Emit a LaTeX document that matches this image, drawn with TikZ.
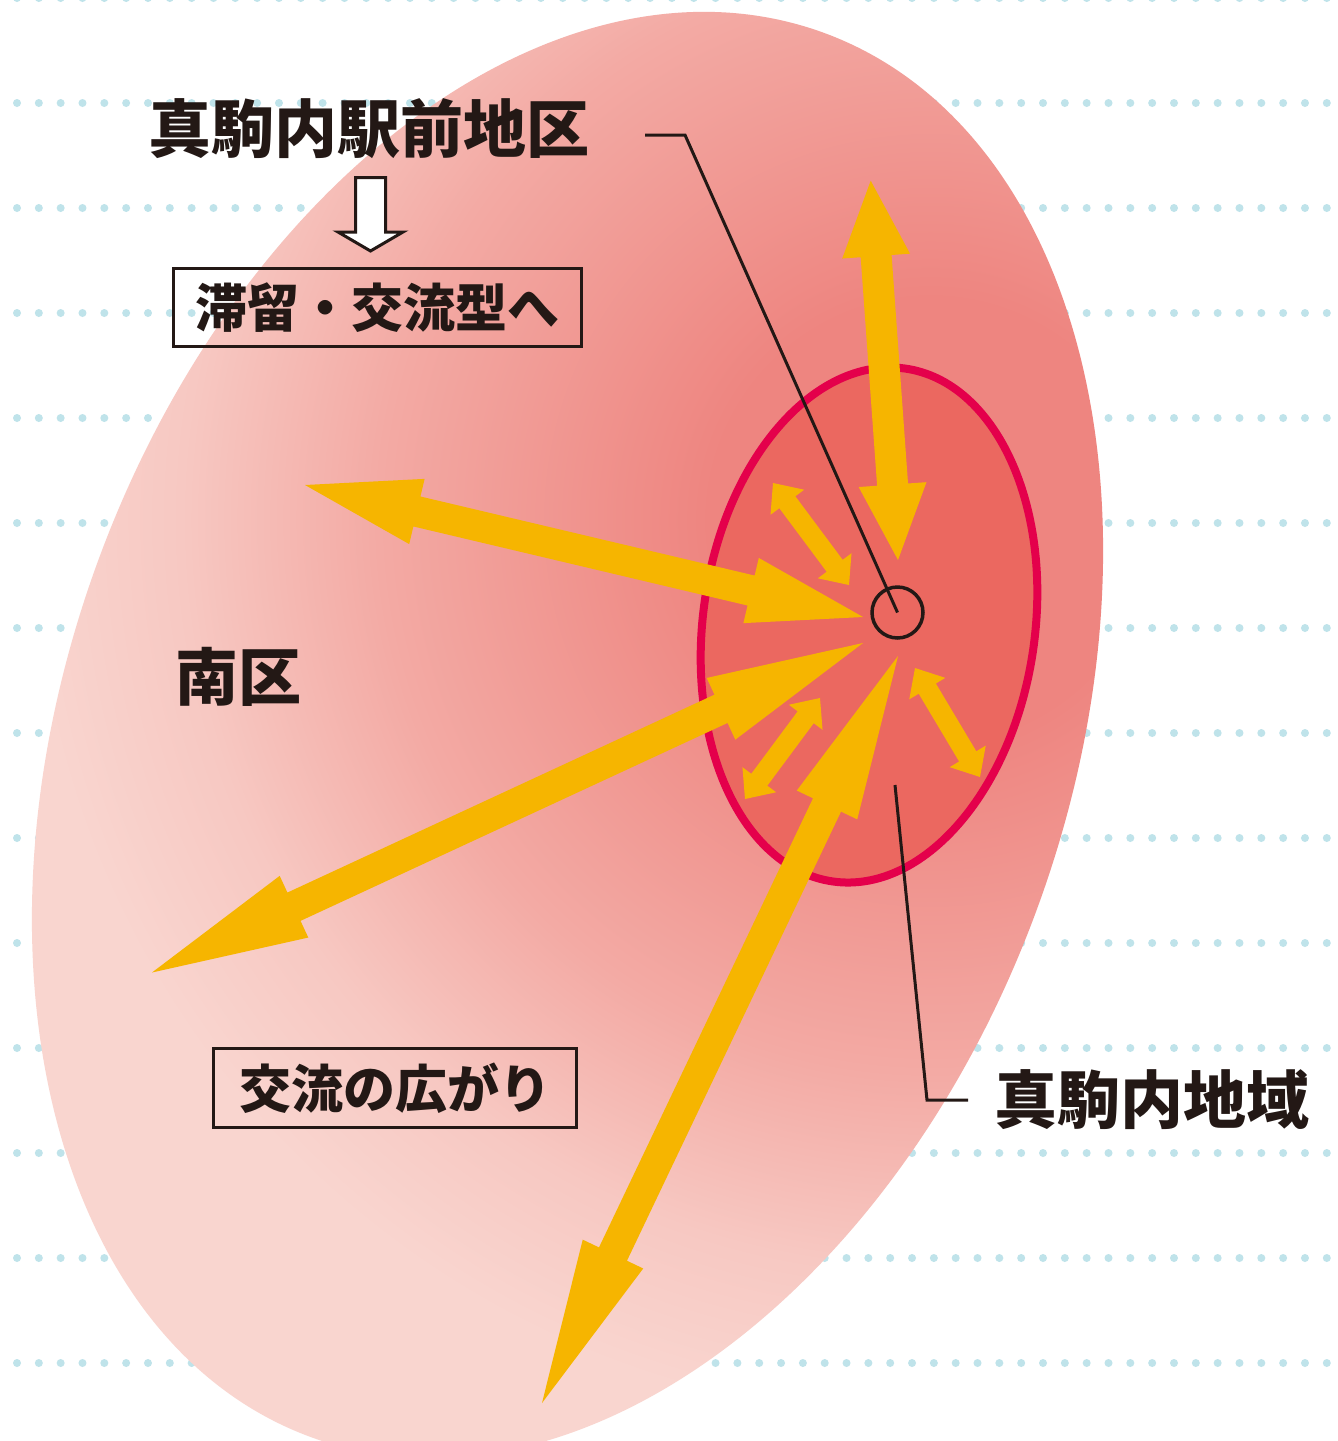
\documentclass[tikz,border=0pt]{standalone}
\usepackage{fontspec}
\newfontfamily\jp{Noto Sans CJK JP}
\usetikzlibrary{calc}
\definecolor{ink}{HTML}{231815}
\definecolor{dotc}{HTML}{BFE3EA}
\definecolor{g0}{HTML}{EE8580}
\definecolor{g1}{HTML}{F3AAA4}
\definecolor{g2}{HTML}{F7C8C2}
\definecolor{g3}{HTML}{F9D5CF}
\definecolor{core}{HTML}{EB6860}
\definecolor{rim}{HTML}{E4004B}
\definecolor{flowc}{HTML}{F6B500}
\pgfdeclareradialshading{bgshade}{\pgfpoint{0bp}{0bp}}{color(0bp)=(g0); color(4.6bp)=(g0); color(11.5bp)=(g1); color(15.6bp)=(g2); color(18.8bp)=(g3); color(50bp)=(g3)}
\newcommand\twoway[5]{%
  \fill[flow] (#1)
  -- ($(#1)!#5!(#2)!#4!90:(#2)$)
  -- ($(#1)!#5!(#2)!#3!90:(#2)$)
  -- ($(#2)!#5!(#1)!#3!-90:(#1)$)
  -- ($(#2)!#5!(#1)!#4!-90:(#1)$)
  -- (#2)
  -- ($(#2)!#5!(#1)!#4!90:(#1)$)
  -- ($(#2)!#5!(#1)!#3!90:(#1)$)
  -- ($(#1)!#5!(#2)!#3!-90:(#2)$)
  -- ($(#1)!#5!(#2)!#4!-90:(#2)$)
  -- cycle;}
\tikzset{
  flow/.style={fill=flowc},
  bigtxt/.style={font=\jp\bfseries\fontsize{63}{63}\selectfont, text=ink, inner sep=0pt},
  boxtxt/.style={font=\jp\bfseries\fontsize{52}{52}\selectfont, text=ink, inner sep=0pt, draw=ink, line width=3pt},
  leader/.style={draw=ink, line width=3pt},
}
\begin{document}
\begin{tikzpicture}[x=1pt,y=-1pt]
\useasboundingbox (0,0) rectangle (1338,1441);
\clip (0,0) rectangle (1338,1441);
\fill[white] (0,0) rectangle (1338,1441);
% dotted rows
\foreach \r in {0,...,13}{
  \foreach \c in {-1,...,61}{
    \fill[dotc] ({17+21.83*\c},{-2+105*\r}) circle (4pt);
  }
}
% big region
\begin{scope}
  \clip[rotate around={-20:(567.5,735)}] (567.5,735) ellipse [x radius=500.7pt, y radius=747.5pt];
  \shade[shading=bgshade] (930,520) circle (1200pt);
\end{scope}
% inner region
\path[fill=core, draw=rim, line width=8pt, rotate around={-8:(869,625)}] (869,625) ellipse [x radius=166pt, y radius=259pt];
% arrow end points
\coordinate (a1t) at (870.7,180.7);
\coordinate (a1b) at (898,560);
\coordinate (a2l) at (305,485);
\coordinate (a2r) at (863,617);
\coordinate (a3l) at (152,972.5);
\coordinate (a3r) at (863,643);
\coordinate (a4b) at (542,1403);
\coordinate (a4t) at (898,656);
\coordinate (sa1) at (773,483);
\coordinate (sa2) at (849,585);
\coordinate (sb1) at (745,799);
\coordinate (sb2) at (820,698);
\coordinate (sc1) at (915,668);
\coordinate (sc2) at (980,777);
\twoway{a1t}{a1b}{15.5pt}{34pt}{75.6pt}
\twoway{a2l}{a2r}{15.4pt}{33.5pt}{115pt}
\twoway{a3l}{a3r}{15.6pt}{34pt}{156.5pt}
\twoway{a4b}{a4t}{15.5pt}{33.5pt}{165pt}
\twoway{sa1}{sa2}{10pt}{21pt}{24pt}
\twoway{sb1}{sb2}{10pt}{21pt}{24pt}
\twoway{sc1}{sc2}{10pt}{21pt}{24pt}
% hub
\node[circle, draw=ink, line width=3.5pt, minimum size=51pt, inner sep=0pt] (hub) at (897.5,612.5) {};
% labels
\node[bigtxt] (station) at (369,129) {真駒内駅前地区};
\node[bigtxt] (area) at (1152,1100) {真駒内地域};
\node[bigtxt] (ward) at (238,677) {南区};
\node[boxtxt, minimum width=408pt, minimum height=78pt] (stay) at (377.5,307.5) {滞留・交流型へ};
\node[boxtxt, minimum width=363pt, minimum height=79pt] (spread) at (395,1088) {交流の広がり};
% white down arrow
\filldraw[fill=white, draw=ink, line width=3pt, line join=miter]
  (355.5,177.5) -- (385.5,177.5) -- (385.5,232) -- (403,232) -- (370.5,251) -- (338,232) -- (355.5,232) -- cycle;
% leaders
\coordinate (l1a) at (685,135);
\coordinate (l1b) at (645,135);
\draw[leader] (hub.center) -- (l1a) -- (l1b);
\coordinate (l2a) at (895,785);
\coordinate (l2b) at (927,1100);
\coordinate (l2c) at (968,1100);
\draw[leader] (l2a) -- (l2b) -- (l2c);
\end{tikzpicture}
\end{document}
